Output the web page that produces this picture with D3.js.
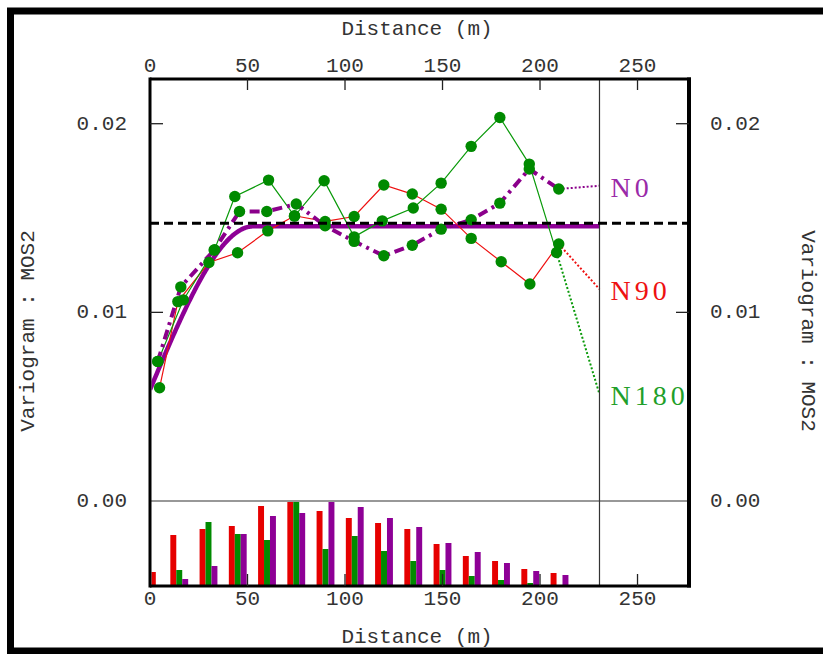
<!DOCTYPE html>
<html lang="en">
<head>
<meta charset="UTF-8">
<title>Variogram MOS2</title>
<script src="https://d3js.org/d3.v7.min.js"></script>
<style>
    body { margin: 0; background: white; }
    svg text { font-family: 'Liberation Mono', 'Courier New', monospace; fill: #333; }
    .dir { font-family: 'Liberation Serif', 'Times New Roman', serif !important; font-size: 28px; letter-spacing: 4px; }
</style>
</head>
<body>
<div id="chart"></div>
<script>
// experimental variograms, one per direction (distance in m, value)
const distN0   = [4.0, 15.8, 32.9, 45.9, 59.9, 75.0, 89.8, 104.7, 119.9, 134.5, 149.3, 164.7, 179.4, 194.5, 209.6];
const gammaN0  = [0.0074, 0.01135, 0.0133, 0.01535, 0.01535, 0.01574, 0.01459, 0.01376, 0.0130, 0.01356, 0.01441, 0.01491, 0.01579, 0.0176, 0.01654];
const distN90  = [4.9, 14.3, 30.2, 44.9, 60.4, 74.1, 89.8, 104.7, 119.9, 134.5, 149.3, 164.7, 180.1, 194.8, 209.6];
const gammaN90 = [0.0060, 0.01057, 0.01264, 0.01316, 0.01432, 0.01512, 0.01482, 0.01508, 0.01675, 0.01627, 0.01547, 0.01392, 0.01268, 0.0115, 0.01362];
const distN180  = [4.0, 17.1, 33.1, 43.5, 60.8, 74.1, 89.3, 104.7, 119.1, 135.0, 149.3, 164.7, 179.4, 194.5, 208.5];
const gammaN180 = [0.0074, 0.01066, 0.01332, 0.01614, 0.01701, 0.0151, 0.01698, 0.0140, 0.01485, 0.01553, 0.01685, 0.0188, 0.02033, 0.01786, 0.01317];
// value reached by each direction at the end of the display (dotted)
const endDist = 230.5;
const endGamma = {N0: 0.01671, N90: 0.01123, N180: 0.00566};

// number of pairs per lag
const lagCenters = [4.5, 15, 30, 45, 60, 75, 90, 105, 120, 135, 150, 165, 180, 195, 210];
const pairsN90  = [140, 510, 570, 600, 800, 840, 750, 680, 630, 570, 420, 300, 250, 170, 130];
const pairsN180 = [0, 160, 640, 520, 460, 840, 370, 500, 350, 250, 160, 100, 60, 30, 0];
const pairsN0   = [0, 70, 200, 520, 700, 730, 840, 790, 680, 590, 430, 340, 230, 150, 110];

// model : nugget + spherical
const nugget = 0.0059, sill = 0.01456, range = 53;
const variance = 0.01472;

const xTicks = [0, 50, 100, 150, 200, 250];
const yTicks = [0, 0.01, 0.02];

const colN0 = "#8b008b", colN90 = "#ee1111", colN180 = "#0a9a0a", colDot = "#008a00";

const W = 823, H = 654;
const svg = d3.select("#chart").append("svg").attr("width", W).attr("height", H);

const pL = 150, pR = 689, pT = 79, zeroY = 501, pB = 586;
const x = d3.scaleLinear().domain([0, 276.4]).range([pL, pR]);
const y = d3.scaleLinear().domain([0, 0.02237]).range([zeroY, pT]);
const hy = d3.scaleLinear().domain([0, 840]).range([pB, zeroY + 1]);

svg.append("clipPath").attr("id", "plot")
    .append("rect").attr("x", pL + 1.5).attr("y", pT).attr("width", pR - pL).attr("height", pB - pT);

// outer frame
svg.append("rect").attr("x", 10.5).attr("y", 11).attr("width", 818).attr("height", 640)
    .attr("fill", "none").attr("stroke", "black").attr("stroke-width", 7);

const g = svg.append("g").attr("clip-path", "url(#plot)");

// histogram of pairs
const bw = 3.05;
const hist = [
    {pairs: pairsN90, off: -bw, col: "#e60000"},
    {pairs: pairsN180, off: 0, col: "#008a00"},
    {pairs: pairsN0, off: bw, col: "#8e0096"}
];
hist.forEach(h => {
    g.append("g").selectAll("rect")
        .data(lagCenters.map((c, i) => ({c: c, n: h.pairs[i]})).filter(d => d.n > 0))
        .join("rect")
        .attr("x", d => x(d.c + h.off - bw / 2))
        .attr("width", x(bw) - x(0))
        .attr("y", d => hy(d.n))
        .attr("height", d => pB - hy(d.n))
        .attr("fill", h.col);
});

// zero line and end of display
svg.append("line").attr("x1", pL).attr("x2", pR).attr("y1", zeroY).attr("y2", zeroY)
    .attr("stroke", "#333").attr("stroke-width", 1.2);
svg.append("line").attr("x1", x(endDist)).attr("x2", x(endDist)).attr("y1", pT).attr("y2", pB)
    .attr("stroke", "#333").attr("stroke-width", 1.2);

// variance
svg.append("line").attr("x1", pL).attr("x2", pR).attr("y1", y(variance)).attr("y2", y(variance))
    .attr("stroke", "black").attr("stroke-width", 3).attr("stroke-dasharray", "9,5");

// model
const hs = d3.range(0, endDist + 0.01, 0.5);
const model = h => h >= range ? sill : nugget + (sill - nugget) * (1.5 * h / range - 0.5 * Math.pow(h / range, 3));
g.append("path")
    .datum(hs)
    .attr("d", d3.line().x(d => x(d)).y(d => y(model(d))))
    .attr("fill", "none").attr("stroke", "#8e0096").attr("stroke-width", 4.5);

const line = d3.line().x(d => x(d[0])).y(d => y(d[1]));
const series = [
    {name: "N90", dist: distN90, gamma: gammaN90, col: colN90, w: 1.2, dash: null},
    {name: "N180", dist: distN180, gamma: gammaN180, col: colN180, w: 1.2, dash: null},
    {name: "N0", dist: distN0, gamma: gammaN0, col: colN0, w: 4, dash: "10,5,3,5"}
];
series.forEach(s => {
    const pts = s.dist.map((d, i) => [d, s.gamma[i]]);
    g.append("path").datum(pts).attr("d", line)
        .attr("fill", "none").attr("stroke", s.col).attr("stroke-width", s.w)
        .attr("stroke-dasharray", s.dash);
    // dotted continuation
    g.append("path").datum([pts[pts.length - 1], [endDist, endGamma[s.name]]]).attr("d", line)
        .attr("fill", "none").attr("stroke", s.col).attr("stroke-width", 2)
        .attr("stroke-dasharray", "2,2");
});
series.forEach(s => {
    g.append("g").selectAll("circle")
        .data(s.dist.map((d, i) => [d, s.gamma[i]]))
        .join("circle")
        .attr("cx", d => x(d[0])).attr("cy", d => y(d[1])).attr("r", 5.7)
        .attr("fill", colDot);
});

// direction labels
series.forEach(s => {
    svg.append("text").attr("class", "dir")
        .attr("x", x(endDist) + 11).attr("y", y(endGamma[s.name]) + 11)
        .style("fill", s.col === colN180 ? "#1f9f2a" : (s.col === colN0 ? "#9a2aa8" : s.col))
        .text(s.name);
});

// frame of plot
svg.append("line").attr("x1", pL).attr("x2", pL).attr("y1", pT - 1.5).attr("y2", pB + 1.5).attr("stroke", "black").attr("stroke-width", 3);
svg.append("line").attr("x1", pL).attr("x2", pR + 2).attr("y1", pT).attr("y2", pT).attr("stroke", "black").attr("stroke-width", 3);
svg.append("line").attr("x1", pR).attr("x2", pR).attr("y1", pT - 1.5).attr("y2", pB + 1.5).attr("stroke", "black").attr("stroke-width", 4);
svg.append("line").attr("x1", pL).attr("x2", pR + 2).attr("y1", pB).attr("y2", pB).attr("stroke", "black").attr("stroke-width", 3);

// ticks
const tk = svg.append("g").attr("stroke", "#222").attr("stroke-width", 1.3);
xTicks.filter(d => d > 0).forEach(d => {
    tk.append("line").attr("x1", x(d)).attr("x2", x(d)).attr("y1", pT).attr("y2", pT + 11);
    tk.append("line").attr("x1", x(d)).attr("x2", x(d)).attr("y1", pB).attr("y2", pB - 12);
});
yTicks.filter(d => d > 0).forEach(d => {
    tk.append("line").attr("x1", pL).attr("x2", pL + 13).attr("y1", y(d)).attr("y2", y(d));
    tk.append("line").attr("x1", pR).attr("x2", pR - 13).attr("y1", y(d)).attr("y2", y(d));
});

// tick labels
const fmt = d3.format(".2f");
xTicks.forEach(d => {
    svg.append("text").attr("x", x(d)).attr("y", 72).attr("text-anchor", "middle").attr("font-size", 21).text(d);
    svg.append("text").attr("x", x(d)).attr("y", 605).attr("text-anchor", "middle").attr("font-size", 21).text(d);
});
yTicks.forEach(d => {
    svg.append("text").attr("x", 127).attr("y", y(d) + 6).attr("text-anchor", "end").attr("font-size", 21).text(fmt(d));
    svg.append("text").attr("x", 710).attr("y", y(d) + 6).attr("font-size", 21).text(fmt(d));
});

// titles
svg.append("text").attr("x", 417).attr("y", 35).attr("text-anchor", "middle").attr("font-size", 21).text("Distance (m)");
svg.append("text").attr("x", 417).attr("y", 643).attr("text-anchor", "middle").attr("font-size", 21).text("Distance (m)");
svg.append("text").attr("transform", "translate(34,331) rotate(-90)").attr("text-anchor", "middle").attr("font-size", 21).text("Variogram : MOS2");
svg.append("text").attr("transform", "translate(802,331) rotate(90)").attr("text-anchor", "middle").attr("font-size", 21).text("Variogram : MOS2");
</script>
</body>
</html>
